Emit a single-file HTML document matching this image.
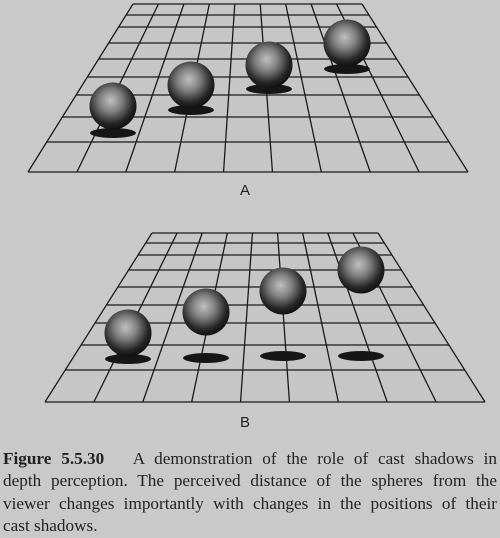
<!DOCTYPE html>
<html><head><meta charset="utf-8"><style>
html,body{margin:0;padding:0;background:#c9c9c9;width:500px;height:538px;overflow:hidden}
#cap{position:absolute;left:3px;top:448px;width:494px;font-family:"Liberation Serif",serif;font-size:17.2px;line-height:22.3px;color:#222}
#cap div{text-align:justify;text-align-last:justify;white-space:nowrap}
#cap div.last{text-align-last:left}
</style></head><body>
<svg id="fig" width="500" height="445" style="position:absolute;left:0;top:0">
<defs>
<radialGradient id="sg" cx="0.45" cy="0.4" r="0.6" fx="0.45" fy="0.38">
<stop offset="0" stop-color="#c0c0c0"/><stop offset="0.4" stop-color="#808080"/><stop offset="0.8" stop-color="#262626"/><stop offset="1" stop-color="#111"/>
</radialGradient>
</defs>
<g id="pa"></g>
<g id="pb"></g>
<text x="245" y="195" font-family="Liberation Sans, sans-serif" font-size="15" text-anchor="middle" fill="#222">A</text>
<text x="245" y="427" font-family="Liberation Sans, sans-serif" font-size="15" text-anchor="middle" fill="#222">B</text>
</svg>
<div id="cap">
<div><b>Figure 5.5.30</b>&nbsp;&nbsp; A demonstration of the role of cast shadows in</div>
<div>depth perception. The perceived distance of the spheres from the</div>
<div>viewer changes importantly with changes in the positions of their</div>
<div class="last">cast shadows.</div>
</div>
<script>
const rowsA=[4,15,27,43,59,77,95,117,142,172];
const rowsB=[233,243,255,270,287,305,323,345,370,402];
const sphXA=[113,191,269,347], sphYA=[106,85,65,43], shYA=[133,110,89,69];
const sphXB=[128,206,283,361], sphYB=[333,312,291,270], shYB=[359,358,356,356];
const NS='http://www.w3.org/2000/svg';
function mk(t,a,p){const e=document.createElementNS(NS,t);for(const k in a)e.setAttribute(k,a[k]);p.appendChild(e);return e;}
function panel(g,rows,tl,tr,bl,br,sx,sy,shy){
  const top=rows[0],bot=rows[rows.length-1];
  const xl=y=>tl+(bl-tl)*(y-top)/(bot-top), xr=y=>tr+(br-tr)*(y-top)/(bot-top);
  mk('polygon',{points:`${tl},${top} ${tr},${top} ${br},${bot} ${bl},${bot}`,fill:'#c6c6c6'},g);
  rows.forEach(y=>{const l=mk('line',{x1:xl(y),y1:y,x2:xr(y),y2:y,stroke:'#1a1a1a','stroke-width':1.3},g);
    
    });
  for(let i=0;i<=9;i++){const f=i/9;const l=mk('line',{x1:tl+(tr-tl)*f,y1:top,x2:bl+(br-bl)*f,y2:bot,stroke:'#1a1a1a','stroke-width':1.3},g);
    
    }
  sx.forEach((x,i)=>{
    const s=mk('ellipse',{cx:x,cy:shy[i],rx:23,ry:5,fill:'#161616'},g);
    
    
    const c=mk('circle',{cx:x,cy:sy[i],r:23.5,fill:'url(#sg)'},g);
    
    
  });
}
panel(document.getElementById('pa'),rowsA,133,362,28,468,sphXA,sphYA,shYA);
panel(document.getElementById('pb'),rowsB,152,378,45,485,sphXB,sphYB,shYB);
</script>
</body></html>
